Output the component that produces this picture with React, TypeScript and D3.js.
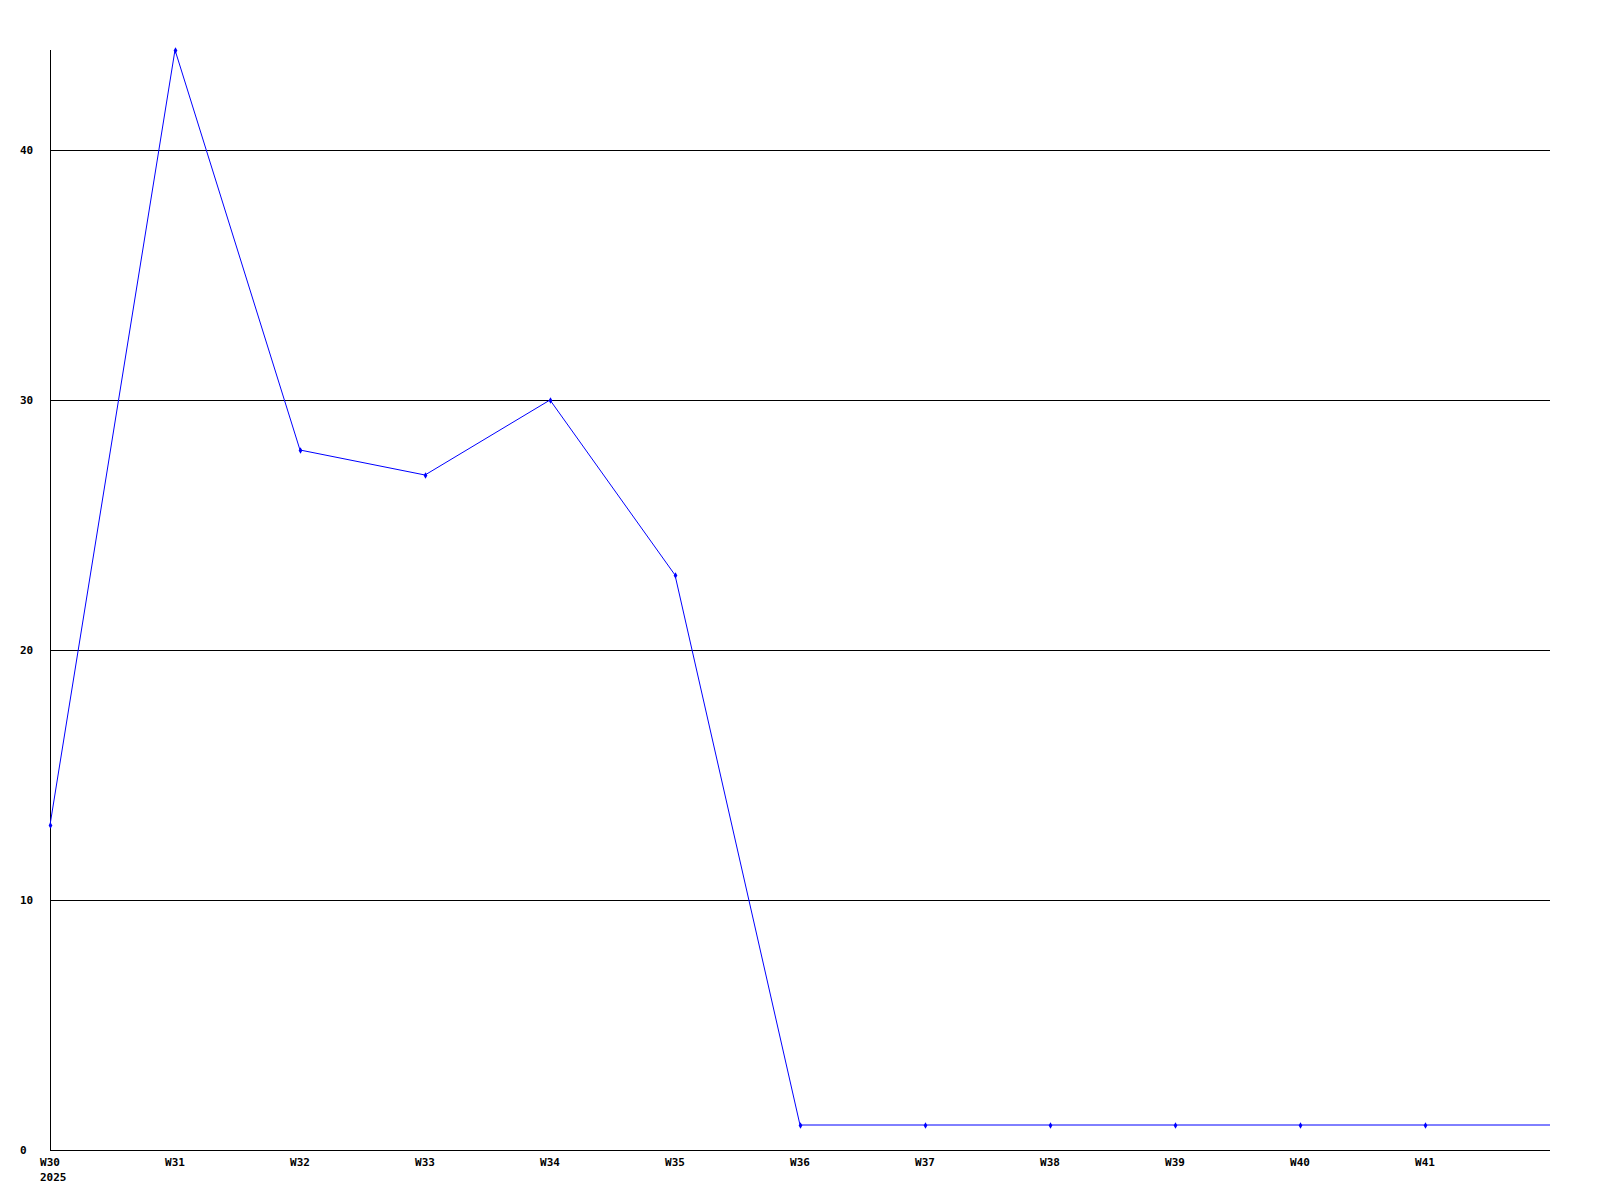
import { useEffect, useRef } from "react";
import * as d3 from "d3";

const weeks = ["W30", "W31", "W32", "W33", "W34", "W35", "W36", "W37", "W38", "W39", "W40", "W41", "W42"];
const values = [13, 44, 28, 27, 30, 23, 1, 1, 1, 1, 1, 1, 1];
const yTicks = [0, 10, 20, 30, 40];
const yearLabel = "2025";

export default function App() {
  const svgRef = useRef<SVGSVGElement | null>(null);

  useEffect(() => {
    if (!svgRef.current) return;

    const width = 1600;
    const height = 1200;
    const left = 50;
    const right = 1550;
    const top = 50;
    const bottom = 1150;

    const svg = d3.select(svgRef.current);
    svg.selectAll("*").remove();
    svg.attr("width", width).attr("height", height);

    svg.append("rect").attr("width", width).attr("height", height).attr("fill", "#fff");

    const x = d3.scaleLinear().domain([0, weeks.length - 1]).range([left, right]);
    const y = d3.scaleLinear().domain([0, 44]).range([bottom, top]);

    const font = "'DejaVu Sans Mono', monospace";

    // gridlines
    svg.append("g")
      .selectAll("line")
      .data(yTicks.filter(t => t > 0))
      .join("line")
      .attr("x1", left)
      .attr("x2", right)
      .attr("y1", d => y(d) + 0.5)
      .attr("y2", d => y(d) + 0.5)
      .attr("stroke", "#000")
      .attr("stroke-width", 1);

    // axes
    svg.append("line")
      .attr("x1", left + 0.5).attr("x2", left + 0.5)
      .attr("y1", top).attr("y2", bottom)
      .attr("stroke", "#000");
    svg.append("line")
      .attr("x1", left).attr("x2", right)
      .attr("y1", bottom + 0.5).attr("y2", bottom + 0.5)
      .attr("stroke", "#000");

    // y labels
    svg.append("g")
      .selectAll("text")
      .data(yTicks)
      .join("text")
      .attr("x", 20)
      .attr("y", d => y(d) + 4)
      .attr("font-family", font)
      .attr("font-size", 11)
      .attr("font-weight", 700)
      .text(d => String(d));

    // x labels
    svg.append("g")
      .selectAll("text")
      .data(weeks.slice(0, -1))
      .join("text")
      .attr("x", (_, i) => x(i))
      .attr("y", bottom + 16)
      .attr("text-anchor", "middle")
      .attr("font-family", font)
      .attr("font-size", 11)
      .attr("font-weight", 700)
      .text(d => d);

    svg.append("text")
      .attr("x", x(0) - 10)
      .attr("y", bottom + 31)
      .attr("font-family", font)
      .attr("font-size", 11)
      .attr("font-weight", 700)
      .text(yearLabel);

    const line = d3.line<number>()
      .x((_, i) => x(i))
      .y(d => y(d));

    svg.append("path")
      .datum(values)
      .attr("d", line)
      .attr("fill", "none")
      .attr("stroke", "#0000ff")
      .attr("stroke-width", 1);

    const diamond = d3.symbol().type(d3.symbolDiamond).size(12);
    svg.append("g")
      .selectAll("path")
      .data(values.slice(0, -1))
      .join("path")
      .attr("transform", (d, i) => `translate(${x(i) + 0.5},${y(d) + 0.5})`)
      .attr("d", diamond)
      .attr("fill", "#0000ff");
  }, []);

  return <svg ref={svgRef} style={{ position: "absolute", left: 0, top: 0 }} />;
}
